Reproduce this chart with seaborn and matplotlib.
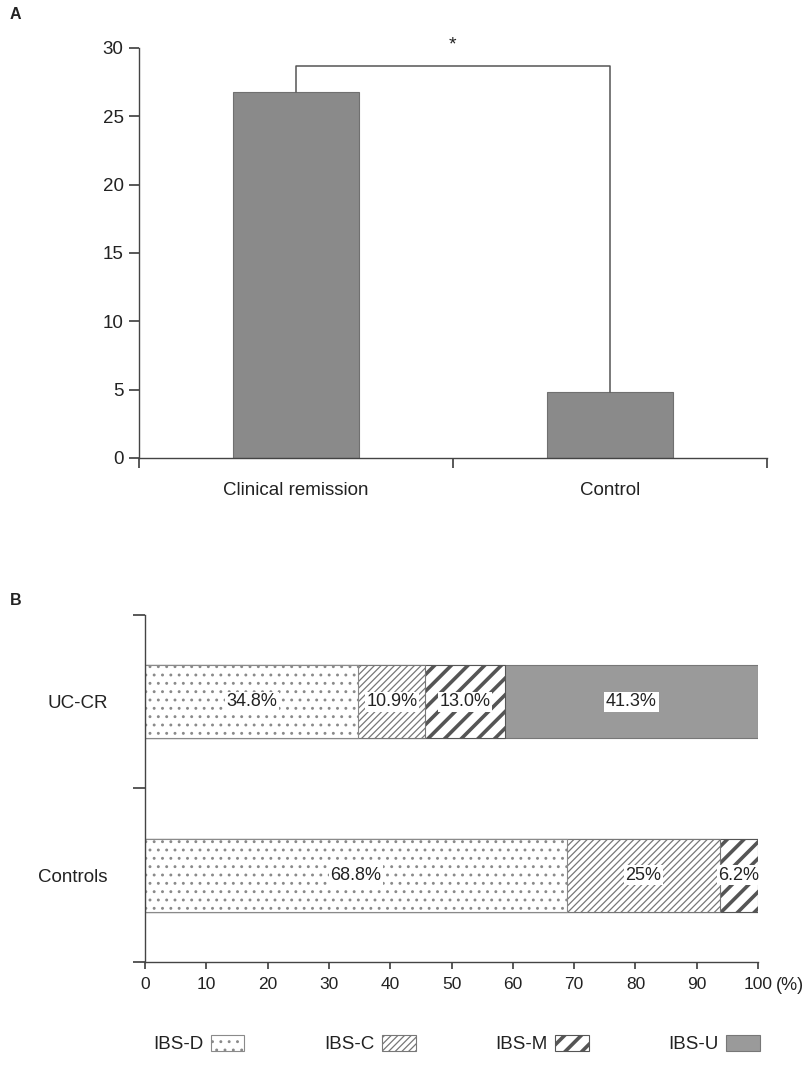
import numpy as np
import pandas as pd
import matplotlib
matplotlib.use("Agg")
import matplotlib.pyplot as plt
import seaborn as sns
from matplotlib.patches import Patch

# ---------------- data ----------------
groups_a = ["Clinical remission", "Control"]
values_a = [26.8, 4.8]
yticks_a = [0, 5, 10, 15, 20, 25, 30]
bracket_level = 28.7
sig_mark = "*"

groups_b = ["UC-CR", "Controls"]
subtypes = ["IBS-D", "IBS-C", "IBS-M", "IBS-U"]
ibs_d = [34.8, 68.8]
ibs_c = [10.9, 25.0]
ibs_m = [13.0, 6.2]
ibs_u = [41.3, 0.0]
labels_b = [["34.8%", "10.9%", "13.0%", "41.3%"],
            ["68.8%", "25%", "6.2%", ""]]
xticks_b = [0, 10, 20, 30, 40, 50, 60, 70, 80, 90, 100]

# ---------------- style ----------------
sns.set_theme(style="ticks")
plt.rcParams["font.family"] = ["Liberation Sans", "DejaVu Sans"]
TXT = "#222222"
SP = "#444444"
plt.rcParams.update({
    "text.color": TXT, "axes.labelcolor": TXT,
    "xtick.color": SP, "ytick.color": SP,
    "xtick.labelcolor": TXT, "ytick.labelcolor": TXT,
    "axes.edgecolor": SP, "axes.linewidth": 1.0,
    "hatch.linewidth": 1.0,
})
FS = 13.5

fig = plt.figure(figsize=(8.08, 10.71), dpi=100)

# ---------------- panel A ----------------
axA = fig.add_axes([0.172, 0.5724, 0.777, 0.3828])
df_a = pd.DataFrame({"group": groups_a, "value": values_a})
sns.barplot(data=df_a, x="group", y="value", color="#8a8a8a", width=0.4,
            saturation=1, edgecolor="#707070", linewidth=0.8, ax=axA)
axA.set_xlim(-0.5, 1.5)
axA.set_ylim(0, 30)
axA.set_yticks(yticks_a)
axA.set_xticks([-0.5, 0.5, 1.5])
axA.set_xticklabels([])
axA.set_xticks([0, 1], minor=True)
axA.set_xticklabels(groups_a, minor=True)
axA.tick_params(axis="x", which="major", length=7, direction="out")
axA.tick_params(axis="x", which="minor", length=0, pad=17, labelsize=FS)
axA.tick_params(axis="y", length=7, pad=4, labelsize=FS)
axA.set_xlabel("")
axA.set_ylabel("")
sns.despine(ax=axA)
axA.plot([0, 0, 1, 1], [values_a[0], bracket_level, bracket_level, values_a[1]],
         color="#555555", lw=1.1, clip_on=False)
axA.text(0.5, 30.2, sig_mark, ha="center", va="center", fontsize=14,
         clip_on=False)

# ---------------- panel B ----------------
axB = fig.add_axes([0.1795, 0.1018, 0.7587, 0.324])
series = [ibs_d, ibs_c, ibs_m, ibs_u]
cums = np.cumsum(np.array(series), axis=0)
styles = [
    dict(color="white", hatch="..", edgecolor="#8a8a8a", hlw=0.9),
    dict(color="white", hatch="/////", edgecolor="#777777", hlw=0.9),
    dict(color="white", hatch="//", edgecolor="#555555", hlw=2.6),
    dict(color="#9a9a9a", hatch=None, edgecolor="#777777", hlw=1.0),
]
for i in range(3, -1, -1):
    st = styles[i]
    n_before = len(axB.patches)
    sns.barplot(x=list(cums[i]), y=groups_b, orient="h", color=st["color"],
                width=0.42, saturation=1, edgecolor=st["edgecolor"],
                linewidth=0.8, hatch=st["hatch"], ax=axB)
    for p in axB.patches[n_before:]:
        try:
            p.set_hatch_linewidth(st["hlw"])
        except Exception:
            pass

for gi in range(len(groups_b)):
    for si in range(len(subtypes)):
        if labels_b[gi][si]:
            start = cums[si][gi] - series[si][gi]
            axB.text(start + series[si][gi] / 2, gi, labels_b[gi][si],
                     ha="center", va="center", fontsize=13,
                     bbox=dict(facecolor="white", edgecolor="none", pad=1.2))

axB.set_xlim(0, 100)
axB.set_ylim(1.5, -0.5)
axB.set_xticks(xticks_b)
axB.set_yticks([-0.5, 0.5, 1.5])
axB.set_yticklabels([])
axB.set_yticks([0, 1], minor=True)
axB.set_yticklabels(groups_b, minor=True)
axB.tick_params(axis="y", which="major", length=9)
axB.tick_params(axis="y", which="minor", length=0, pad=27, labelsize=FS)
axB.tick_params(axis="x", length=5, pad=6, labelsize=12.5)
axB.set_xlabel("")
axB.set_ylabel("")
sns.despine(ax=axB)
axB.text(1.029, -0.068, "(%)", transform=axB.transAxes, ha="left",
         va="center", fontsize=13)

handles = []
for st in styles:
    handles.append(Patch(facecolor=st["color"], edgecolor=st["edgecolor"],
                         hatch=st["hatch"], linewidth=0.8))
leg = fig.legend(handles, subtypes, loc="center", bbox_to_anchor=(0.565, 0.025),
                 ncol=4, frameon=False, markerfirst=False, handlelength=1.8,
                 handleheight=0.9, columnspacing=4.25, handletextpad=0.4,
                 fontsize=FS)
for p, st in zip(leg.get_patches(), styles):
    try:
        p.set_hatch_linewidth(st["hlw"])
    except Exception:
        pass

fig.text(0.012, 0.982, "A", fontsize=11.5, fontweight="bold")
fig.text(0.012, 0.435, "B", fontsize=11.5, fontweight="bold")

fig.savefig("out.png", dpi=100)
